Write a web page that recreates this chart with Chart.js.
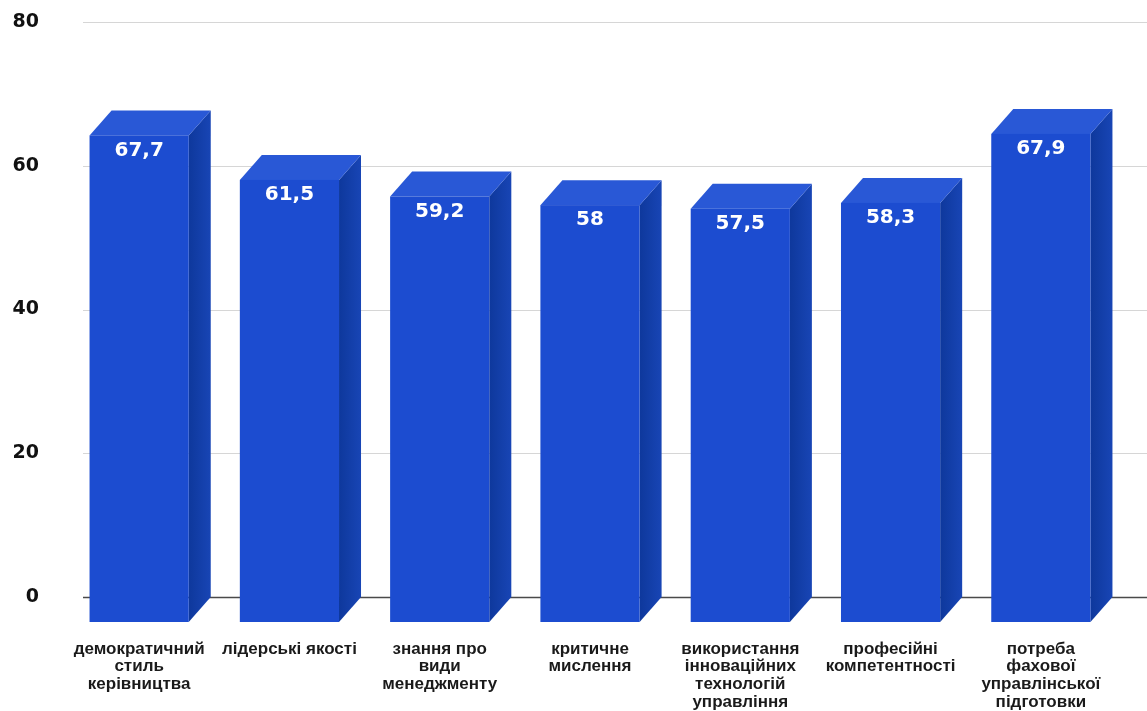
<!DOCTYPE html>
<html>
<head>
<meta charset="utf-8">
<script src="https://cdn.jsdelivr.net/npm/chart.js@4.4.1/dist/chart.umd.min.js"></script>
<style>
html,body{margin:0;padding:0;background:#fff;}
#wrap{width:1147px;height:711px;position:relative;}
</style>
</head>
<body>
<div id="wrap"><canvas id="c"></canvas></div>
<script>
const categories = [
  ["демократичний","стиль","керівництва"],
  ["лідерські якості"],
  ["знання про","види","менеджменту"],
  ["критичне","мислення"],
  ["використання","інноваційних","технологій","управління"],
  ["професійні","компетентності"],
  ["потреба","фахової","управлінської","підготовки"]
];
const values = [67.7, 61.5, 59.2, 58, 57.5, 58.3, 67.9];
const yTicks = [0, 20, 40, 60, 80];

const DX = 22, DY = 25;
const FRONT = '#1c4cd0', TOP = '#2958d6';

const gridPlugin = {
  id: 'gridBack',
  beforeDatasetsDraw(chart) {
    const ctx = chart.ctx, y = chart.scales.y;
    ctx.save();
    yTicks.forEach(t => {
      const py = Math.round(y.getPixelForValue(t)) + 0.5;
      ctx.beginPath();
      ctx.moveTo(83, py);
      ctx.lineTo(chart.width, py);
      ctx.strokeStyle = t === 0 ? '#4a4a4a' : '#d6d6d6';
      ctx.lineWidth = t === 0 ? 1.5 : 1;
      ctx.stroke();
    });
    ctx.restore();
  }
};

const box3d = {
  id: 'box3d',
  afterDatasetsDraw(chart) {
    const ctx = chart.ctx;
    const meta = chart.getDatasetMeta(0);
    ctx.save();
    meta.data.forEach((el, i) => {
      const p = el.getProps(['x','y','base','width'], true);
      const L = p.x - p.width/2 - DX, R = p.x + p.width/2 - DX;
      const T = p.y + DY, B = p.base + DY;
      // side
      const sg = ctx.createLinearGradient(R, 0, R + DX, 0);
      sg.addColorStop(0, '#0e389c'); sg.addColorStop(1, '#1845b5');
      ctx.fillStyle = sg;
      ctx.beginPath();
      ctx.moveTo(R, T); ctx.lineTo(R + DX, T - DY); ctx.lineTo(R + DX, B - DY); ctx.lineTo(R, B);
      ctx.closePath(); ctx.fill();
      // top
      ctx.fillStyle = TOP;
      ctx.beginPath();
      ctx.moveTo(L, T); ctx.lineTo(L + DX, T - DY); ctx.lineTo(R + DX, T - DY); ctx.lineTo(R, T);
      ctx.closePath(); ctx.fill();
      // front
      ctx.fillStyle = FRONT;
      ctx.fillRect(L, T, R - L, B - T);
      // value label
      ctx.fillStyle = '#ffffff';
      ctx.font = 'bold 20px "DejaVu Sans"';
      ctx.textAlign = 'center';
      ctx.textBaseline = 'middle';
      ctx.fillText(String(values[i]).replace('.', ','), (L + R)/2, T + 15);
    });
    ctx.restore();
  }
};

new Chart(document.getElementById('c'), {
  type: 'bar',
  data: {
    labels: categories,
    datasets: [{
      data: values,
      backgroundColor: 'rgba(0,0,0,0)',
      borderWidth: 0,
      barPercentage: 0.66,
      categoryPercentage: 1
    }]
  },
  options: {
    responsive: true,
    maintainAspectRatio: false,
    animation: false,
    devicePixelRatio: 1,
    layout: { padding: { top: 22, right: 9, left: 0, bottom: 0 } },
    plugins: { legend: { display: false }, tooltip: { enabled: false } },
    scales: {
      x: {
        grid: { display: false, drawTicks: false },
        border: { display: false },
        ticks: {
          labelOffset: -DX,
          padding: 43,
          maxRotation: 0,
          autoSkip: false,
          color: '#1a1a1a',
          font: { family: '"Liberation Sans", Arial, sans-serif', size: 17, weight: 'bold', lineHeight: 1.05 }
        },
        afterFit(s) { s.height = 114; s.paddingLeft = 0; s.paddingRight = 0; }
      },
      y: {
        min: 0, max: 80,
        grid: { display: false, drawTicks: false },
        border: { display: false },
        ticks: {
          stepSize: 20,
          padding: 47,
          color: '#111',
          font: { family: '"DejaVu Sans", sans-serif', size: 19, weight: 'bold' }
        },
        afterFit(s) { s.width = 86; s.paddingTop = 0; s.paddingBottom = 0; }
      }
    }
  },
  plugins: [gridPlugin, box3d]
});
</script>
</body>
</html>
